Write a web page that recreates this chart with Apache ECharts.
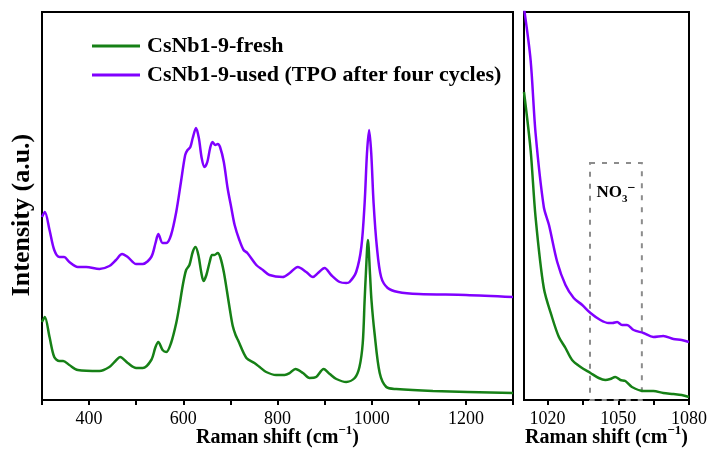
<!DOCTYPE html>
<html>
<head>
<meta charset="utf-8">
<script src="https://cdn.jsdelivr.net/npm/echarts@6/dist/echarts.min.js"></script>
<style>html,body{margin:0;padding:0;background:#fff}#c{width:712px;height:450px}</style>
</head>
<body>
<div id="c"></div>
<script>
// ---- data (wavenumber cm^-1, intensity a.u.) ----
const seriesNames = ['CsNb1-9-fresh', 'CsNb1-9-used (TPO after four cycles)'];
const freshMain = [[300,78],[306,83],[316,63],[326,43],[337,39],[345,39],[358,35],[376,30],[422,29],[443,33],[456,39],[466,43],[482,37],[500,32],[514,32],[532,40],[541,53],[547,58],[556,50],[564,48],[574,57],[585,77],[592,95],[599,115],[606,130],[613,135],[620,148],[626,153],[632,145],[638,128],[643,119],[649,125],[656,138],[661,145],[666,145],[673,147],[679,142],[686,128],[693,108],[699,90],[705,74],[711,65],[716,60],[734,42],[751,37],[762,33],[776,28],[797,25],[815,25],[826,27],[838,31],[854,27],[868,22],[882,23],[898,31],[911,26],[925,21],[946,18],[964,22],[974,33],[981,57],[985,100],[987.5,125],[992,160],[996.5,125],[999.5,100],[1006,67],[1017,27],[1031,13],[1052,11],[1130,9],[1300,7]];
const usedMain = [[300,183],[306,188],[316,170],[326,150],[337,143],[347,143],[358,138],[376,133],[394,133],[422,131],[443,134],[457,140],[470,146],[482,143],[500,136],[514,136],[532,143],[541,157],[547,166],[556,157],[564,157],[574,165],[585,188],[595,218],[604,245],[609,250],[615,253],[620,262],[627,272],[633,262],[639,242],[645,233],[651,238],[657,252],[662,258],[668,255],[673,256],[678,253],[686,238],[694,212],[702,192],[709,175],[719,160],[728,150],[736,147],[755,135],[769,130],[783,125],[811,123],[826,127],[843,133],[861,128],[875,123],[886,127],[900,132],[914,125],[932,118],[946,117],[953,118],[967,128],[978,153],[985,197],[990,247],[994.5,270],[999,247],[1004,197],[1011,153],[1020,123],[1034,112],[1056,108],[1100,106],[1200,105],[1300,103]];
const freshZoom = [[1010,308],[1012.8,250],[1014.9,183],[1018.4,112],[1022,82],[1024.8,63],[1027.6,52],[1030.4,40],[1034,33],[1038.2,27],[1041.7,22],[1044.5,20],[1046.6,21],[1048.7,23],[1050.9,20],[1053,19],[1055.8,13],[1060.7,9],[1064.9,9],[1069.1,7],[1073.4,6],[1076.9,5],[1080,3]];
const usedZoom = [[1010,392],[1012.8,340],[1014.9,267],[1018.4,193],[1020.6,175],[1024.1,138],[1027.6,115],[1031.1,102],[1034.7,95],[1038.2,87],[1042.4,80],[1045.9,77],[1047.5,77],[1049.5,78],[1051.6,75],[1053.7,75],[1056.5,70],[1060.7,67],[1064.9,63],[1069.1,64],[1073.4,61],[1076.9,60],[1080,58]];
const mainTickLabels = [400, 600, 800, 1000, 1200];
const zoomTicks = [1020, 1035, 1050, 1065, 1080];
const zoomTickLabels = [1020, 1050, 1080];
const no3Region = [1038, 1060, 237];

const FONT = "'Times New Roman','Liberation Serif',serif";
const GREEN = '#168016';
const PURPLE = '#8000ff';

const axisNameRich = {
  b: {fontFamily: FONT, fontWeight: 'bold', fontSize: 20, color: '#000', lineHeight: 24, verticalAlign: 'bottom'},
  s: {fontFamily: FONT, fontWeight: 'bold', fontSize: 13, color: '#000', lineHeight: 24, verticalAlign: 'top'}
};
const axisName = '{b|Raman shift (cm}{s|−1}{b|)}';

const chart = echarts.init(document.getElementById('c'), null, {renderer: 'canvas'});
chart.setOption({
  animation: false,
  backgroundColor: '#fff',
  grid: [
    {left: 42, top: 12, width: 471, height: 388, show: true, borderColor: '#000', borderWidth: 2,
      containLabel: false, outerBoundsMode: 'none'},
    {left: 524, top: 12, width: 165, height: 388, show: true, borderColor: '#000', borderWidth: 2,
      containLabel: false, outerBoundsMode: 'none'}
  ],
  legend: {
    left: 92, top: 35, padding: 0, orient: 'vertical', itemWidth: 48, itemHeight: 3, itemGap: 7, icon: 'rect',
    data: seriesNames,
    textStyle: {fontFamily: FONT, fontWeight: 'bold', fontSize: 22, color: '#000', lineHeight: 22, padding: [0, 0, 0, 2]}
  },
  xAxis: [
    {
      type: 'value', gridIndex: 0, min: 300, max: 1300, interval: 100,
      axisLine: {lineStyle: {color: '#000', width: 2}},
      axisTick: {show: true, inside: false, length: 5, lineStyle: {color: '#000', width: 2}},
      axisLabel: {fontFamily: FONT, fontSize: 18, color: '#000', margin: 10,
        formatter: v => mainTickLabels.indexOf(v) >= 0 ? String(v) : ''},
      splitLine: {show: false},
      name: axisName, nameLocation: 'middle', nameGap: 24, nameMoveOverlap: false,
      nameTextStyle: {rich: axisNameRich}
    },
    {
      type: 'value', gridIndex: 1, min: 1010, max: 1080,
      axisLine: {lineStyle: {color: '#000', width: 2}},
      axisTick: {show: true, inside: false, length: 5, lineStyle: {color: '#000', width: 2}, customValues: zoomTicks},
      axisLabel: {fontFamily: FONT, fontSize: 18, color: '#000', margin: 10, customValues: zoomTickLabels,
        formatter: v => String(v)},
      splitLine: {show: false},
      name: axisName, nameLocation: 'middle', nameGap: 24, nameMoveOverlap: false,
      nameTextStyle: {rich: axisNameRich}
    }
  ],
  yAxis: [
    {type: 'value', gridIndex: 0, min: 0, max: 388, axisLine: {show: true, lineStyle: {color: '#000', width: 2}},
      axisTick: {show: false}, axisLabel: {show: false}, splitLine: {show: false}},
    {type: 'value', gridIndex: 1, min: 0, max: 388, axisLine: {show: true, lineStyle: {color: '#000', width: 2}},
      axisTick: {show: false}, axisLabel: {show: false}, splitLine: {show: false}}
  ],
  graphic: [{
    type: 'text', x: 22, y: 215, rotation: Math.PI / 2,
    style: {text: 'Intensity (a.u.)', fontFamily: FONT, fontWeight: 'bold', fontSize: 26, fill: '#000',
      align: 'center', verticalAlign: 'middle'}
  }],
  series: [
    {name: seriesNames[0], type: 'line', xAxisIndex: 0, yAxisIndex: 0, data: freshMain, showSymbol: false,
      smooth: 0.3, lineStyle: {color: GREEN, width: 2.5}, itemStyle: {color: GREEN}},
    {name: seriesNames[1], type: 'line', xAxisIndex: 0, yAxisIndex: 0, data: usedMain, showSymbol: false,
      smooth: 0.3, lineStyle: {color: PURPLE, width: 2.5}, itemStyle: {color: PURPLE}},
    {name: seriesNames[0], type: 'line', xAxisIndex: 1, yAxisIndex: 1, data: freshZoom, showSymbol: false,
      smooth: 0.3, lineStyle: {color: GREEN, width: 2.5}, itemStyle: {color: GREEN}},
    {name: seriesNames[1], type: 'line', xAxisIndex: 1, yAxisIndex: 1, data: usedZoom, showSymbol: false,
      smooth: 0.3, lineStyle: {color: PURPLE, width: 2.5}, itemStyle: {color: PURPLE},
      markArea: {
        silent: true,
        itemStyle: {color: 'rgba(0,0,0,0)', borderColor: '#8c8c8c', borderWidth: 2, borderType: [5, 7]},
        label: {
          show: true, position: ['50%', 31], align: 'center', verticalAlign: 'middle',
          formatter: '{n|NO}{sub|3}{sup|−}',
          rich: {
            n: {fontFamily: FONT, fontWeight: 'bold', fontSize: 17, color: '#000', lineHeight: 24, verticalAlign: 'middle'},
            sub: {fontFamily: FONT, fontWeight: 'bold', fontSize: 11, color: '#000', lineHeight: 24, verticalAlign: 'bottom'},
            sup: {fontFamily: FONT, fontWeight: 'bold', fontSize: 14, color: '#000', lineHeight: 24, verticalAlign: 'top'}
          }
        },
        data: [[{xAxis: no3Region[0], yAxis: no3Region[2]}, {xAxis: no3Region[1], yAxis: 0}]]
      }}
  ]
});
</script>
</body>
</html>
